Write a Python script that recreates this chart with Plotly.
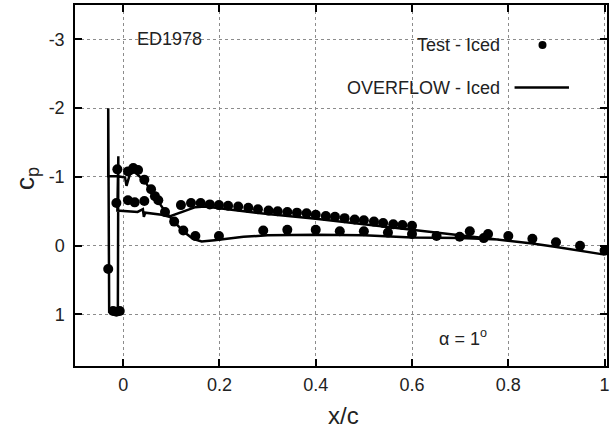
import plotly.graph_objects as go

# ---------------- data ----------------
test_x = [-0.031, -0.021, -0.014, -0.007, -0.012, -0.014,
          0.010, 0.021, 0.031, 0.044, 0.058, 0.066, 0.073,
          0.010, 0.024, 0.044,
          0.087, 0.106, 0.125, 0.150, 0.199,
          0.120, 0.141, 0.161, 0.180, 0.199, 0.218, 0.239, 0.260, 0.280, 0.302,
          0.321, 0.341, 0.361, 0.381, 0.400, 0.421, 0.440, 0.460, 0.481, 0.500,
          0.521, 0.540, 0.561, 0.580, 0.600,
          0.291, 0.341, 0.400, 0.450, 0.500, 0.550, 0.600, 0.651, 0.699,
          0.720, 0.749, 0.758, 0.800, 0.850, 0.899, 0.949, 1.000]
test_cp = [0.34, 0.95, 0.96, 0.95, -1.11, -0.62,
           -1.08, -1.13, -1.10, -0.96, -0.82, -0.72, -0.66,
           -0.66, -0.63, -0.65,
           -0.49, -0.35, -0.22, -0.14, -0.14,
           -0.59, -0.62, -0.62, -0.60, -0.59, -0.58, -0.57, -0.55, -0.53, -0.51,
           -0.50, -0.49, -0.48, -0.47, -0.45, -0.43, -0.42, -0.40, -0.38, -0.37,
           -0.35, -0.33, -0.31, -0.30, -0.29,
           -0.22, -0.23, -0.23, -0.21, -0.21, -0.19, -0.17, -0.14, -0.13,
           -0.21, -0.11, -0.17, -0.14, -0.10, -0.05, 0.00, 0.07]

ovf_x = [1.000, 0.950, 0.900, 0.850, 0.800, 0.750, 0.700, 0.650, 0.600, 0.500,
         0.400, 0.300, 0.250, 0.200, 0.170, 0.150, 0.130, 0.110, 0.095, 0.080,
         0.060, 0.046, 0.043, 0.041, 0.030, 0.015, 0.000, -0.012,
         -0.010, -0.011, -0.029, -0.031, -0.031, -0.010,
         0.004, 0.007, 0.014, 0.024, 0.045, 0.062, 0.087, 0.107, 0.128, 0.145,
         0.163, 0.190, 0.218, 0.250, 0.300, 0.350, 0.400, 0.500, 0.600, 0.700,
         0.750, 0.780]
ovf_cp = [0.13, 0.07, 0.02, -0.03, -0.07, -0.11, -0.15, -0.20, -0.24, -0.32,
          -0.39, -0.46, -0.50, -0.55, -0.57, -0.56, -0.51, -0.45, -0.42, -0.45,
          -0.47, -0.48, -0.42, -0.53, -0.49, -0.50, -0.50, -0.51,
          -1.30, 0.97, 0.96, -2.00, -1.01, -1.01,
          -0.99, -0.87, -1.04, -1.07, -0.94, -0.75, -0.50, -0.34, -0.19, -0.10,
          -0.06, -0.08, -0.10, -0.13, -0.15, -0.16, -0.16, -0.15, -0.12, -0.11,
          -0.10, -0.09]

x_tick_vals = [0, 0.2, 0.4, 0.6, 0.8, 1.0]
x_tick_text = ["0", "0.2", "0.4", "0.6", "0.8", "1"]
y_tick_vals = [-3, -2, -1, 0, 1]
y_tick_text = ["-3", "-2", "-1", "0", "1"]

FONT = "Liberation Sans, Arial, Helvetica, sans-serif"
TXT = "#222"

fig = go.Figure()
fig.add_trace(go.Scatter(x=ovf_x, y=ovf_cp, mode="lines",
                         line=dict(color="black", width=2.5),
                         showlegend=False, hoverinfo="skip"))
fig.add_trace(go.Scatter(x=test_x, y=test_cp, mode="markers",
                         marker=dict(color="black", size=10, symbol="circle"),
                         showlegend=False))

axis_common = dict(showline=True, linecolor="black", linewidth=1.5,
                   mirror="ticks", ticks="inside", ticklen=7, tickwidth=1.5,
                   tickcolor="black", showgrid=True, gridcolor="#8c8c8c",
                   griddash="dot", gridwidth=1, zeroline=False,
                   tickfont=dict(family=FONT, size=18, color=TXT))

fig.update_xaxes(range=[-0.1, 1.005], tickmode="array", tickvals=x_tick_vals,
                 ticktext=x_tick_text, ticklabelstandoff=2, **axis_common)
fig.update_yaxes(range=[1.75, -3.5], tickmode="array", tickvals=y_tick_vals,
                 ticktext=y_tick_text, ticklabelstandoff=5, **axis_common)

ann_font = dict(family=FONT, size=18, color=TXT)
annotations = [
    dict(x=0.024, y=-3.0, xref="x", yref="y", text="ED1978", showarrow=False,
         xanchor="left", yanchor="middle", font=ann_font),
    dict(x=0.786, y=-2.92, xref="x", yref="y", text="Test - Iced", showarrow=False,
         xanchor="right", yanchor="middle", font=ann_font),
    dict(x=0.786, y=-2.30, xref="x", yref="y", text="OVERFLOW - Iced", showarrow=False,
         xanchor="right", yanchor="middle", font=ann_font),
    dict(x=0.705, y=1.34, xref="x", yref="y", text="α = 1<sup>o</sup>", showarrow=False,
         xanchor="center", yanchor="middle", font=ann_font),
    dict(x=(343 - 75) / 532, y=-(416 - 366) / 363, xref="paper", yref="paper",
         text="x/c", showarrow=False, xanchor="center", yanchor="middle",
         font=dict(family=FONT, size=24, color=TXT)),
    dict(x=-(75 - 26) / 532, y=1 - (178 - 3) / 363, xref="paper", yref="paper",
         text="c<sub>p</sub>", showarrow=False, xanchor="center", yanchor="middle",
         textangle=-90, font=dict(family=FONT, size=26, color=TXT)),
]

shapes = [
    dict(type="line", xref="x", yref="y", x0=0.813, x1=0.926, y0=-2.30, y1=-2.30,
         line=dict(color="black", width=2.5)),
    dict(type="circle", xref="x", yref="y", xsizemode="pixel", ysizemode="pixel",
         xanchor=0.871, yanchor=-2.92, x0=-4, x1=4, y0=-4, y1=4,
         fillcolor="black", line=dict(color="black", width=0)),
]

fig.update_layout(width=615, height=429, margin=dict(l=75, r=8, t=3, b=63),
                  plot_bgcolor="white", paper_bgcolor="white",
                  annotations=annotations, shapes=shapes, showlegend=False)

fig.write_html("out.html", config={"displayModeBar": False},
               post_script="document.body.style.margin='0';document.body.style.padding='0';")
